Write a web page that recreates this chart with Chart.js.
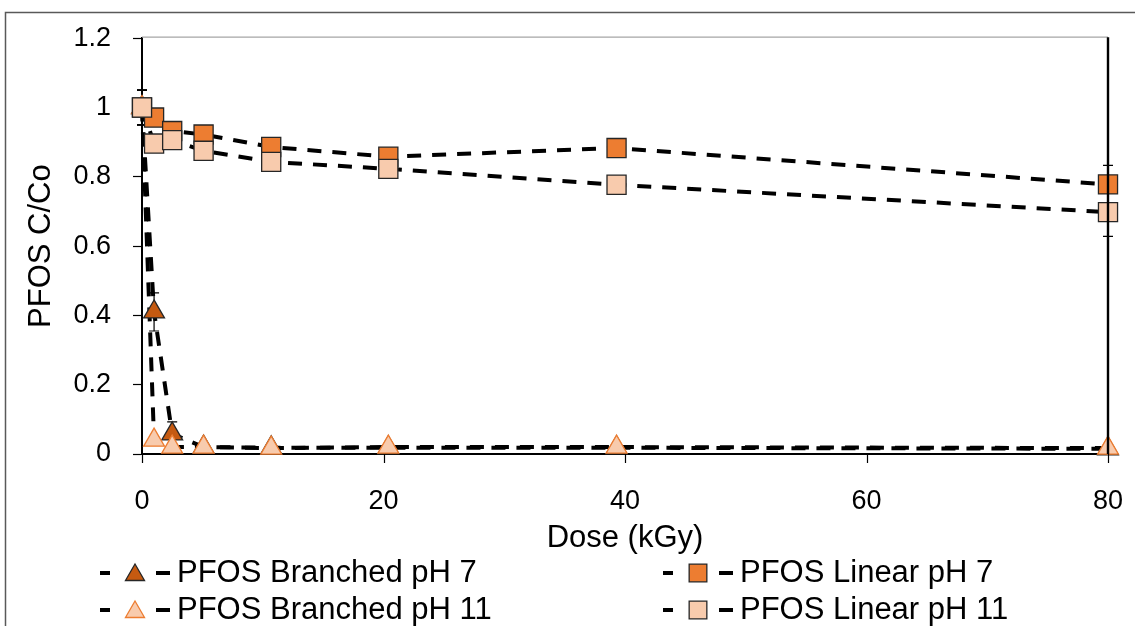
<!DOCTYPE html>
<html>
<head>
<meta charset="utf-8">
<script src="https://cdn.jsdelivr.net/npm/chart.js@4.4.1/dist/chart.umd.min.js"></script>
<style>
  html, body { margin: 0; padding: 0; background: #fff; }
  #wrap { width: 1135px; height: 626px; position: relative; }
</style>
</head>
<body>
<div id="wrap"><canvas id="c" width="1135" height="626"></canvas></div>
<script>
// dose in kGy
const dose = [0, 1, 2.5, 5.1, 10.7, 20.4, 39.3, 80];

const branchedPH7 = [1, 0.41, 0.058, 0.02, 0.018, 0.018, 0.018, 0.015];
const branchedPH11 = [1, 0.04, 0.02, 0.02, 0.017, 0.02, 0.02, 0.017];
const linearPH7 = [1, 0.971, 0.932, 0.922, 0.886, 0.858, 0.883, 0.778];
const linearPH11 = [1, 0.896, 0.906, 0.875, 0.843, 0.823, 0.777, 0.698];

// error bars (+/-)
const errBranchedPH7 = [0.05, 0.055, 0.035, 0.005, 0.005, 0.005, 0.005, 0.005];
const errBranchedPH11 = [0.05, 0.01, 0.005, 0.005, 0.005, 0.005, 0.005, 0.005];
const errLinearPH7 = [0.05, 0.01, 0.01, 0.01, 0.01, 0.01, 0.01, 0.055];
const errLinearPH11 = [0.05, 0.01, 0.01, 0.01, 0.01, 0.01, 0.01, 0.07];

const xTicks = [0, 20, 40, 60, 80];
const yTicks = [0, 0.2, 0.4, 0.6, 0.8, 1, 1.2];

const FONT = "'Liberation Sans', Arial, sans-serif";
Chart.defaults.font.family = FONT;
Chart.defaults.color = '#000';

const pts = vals => dose.map((x, i) => ({ x: x, y: vals[i] }));

// legend order as in the picture; col/row for placement
const series = [
  { label: 'PFOS Branched pH 7', vals: branchedPH7, err: errBranchedPH7, shape: 'triangle', r: 12, fill: '#C55A11', edge: '#262626', col: 0, row: 0 },
  { label: 'PFOS Linear pH 7', vals: linearPH7, err: errLinearPH7, shape: 'rect', r: 13.5, fill: '#ED7D31', edge: '#262626', col: 1, row: 0 },
  { label: 'PFOS Branched pH 11', vals: branchedPH11, err: errBranchedPH11, shape: 'triangle', r: 12, fill: '#F8CBAD', edge: '#ED7D31', col: 0, row: 1 },
  { label: 'PFOS Linear pH 11', vals: linearPH11, err: errLinearPH11, shape: 'rect', r: 13.5, fill: '#F8CBAD', edge: '#262626', col: 1, row: 1 }
];

// draw order, bottom -> top: branched 7, branched 11, linear 7, linear 11
const stack = [series[3], series[1], series[2], series[0]];

const markerSets = stack.map(s => ({
  label: s.label,
  data: pts(s.vals),
  showLine: false,
  pointStyle: s.shape,
  pointRadius: s.r,
  pointHoverRadius: s.r,
  pointBackgroundColor: s.fill,
  pointBorderColor: s.edge,
  pointBorderWidth: 1.3,
  clip: false,
  errors: s.err
}));

const lineSets = stack.map(s => ({
  label: s.label + ' line',
  data: pts(s.vals),
  showLine: true,
  pointRadius: 0,
  borderColor: '#000',
  borderWidth: 4,
  borderDash: [14, 11],
  borderCapStyle: 'butt',
  tension: 0,
  clip: false
}));

const errorBars = {
  id: 'errorBars',
  beforeDatasetsDraw(chart) {
    const { ctx, scales: { x, y } } = chart;
    ctx.save();
    ctx.strokeStyle = '#000';
    ctx.lineWidth = 1.2;
    chart.data.datasets.forEach(ds => {
      if (!ds.errors) return;
      ds.data.forEach((p, i) => {
        const px = x.getPixelForValue(p.x);
        const top = y.getPixelForValue(p.y + ds.errors[i]);
        const bot = y.getPixelForValue(p.y - ds.errors[i]);
        ctx.beginPath();
        ctx.moveTo(px, top); ctx.lineTo(px, bot);
        ctx.moveTo(px - 5, top); ctx.lineTo(px + 5, top);
        ctx.moveTo(px - 5, bot); ctx.lineTo(px + 5, bot);
        ctx.stroke();
      });
    });
    ctx.restore();
  }
};

const frame = {
  id: 'frame',
  afterDraw(chart) {
    const { ctx, chartArea: a } = chart;
    const xs = chart.scales.x;
    ctx.save();
    // outer chart border
    ctx.strokeStyle = '#595959';
    ctx.lineWidth = 1.5;
    ctx.strokeRect(5.5, 12.5, 1200, 700);
    // plot area top and right
    ctx.strokeStyle = '#a6a6a6';
    ctx.lineWidth = 1.2;
    ctx.beginPath();
    ctx.moveTo(a.left, a.top - 1); ctx.lineTo(a.right, a.top - 1);
    ctx.stroke();
    ctx.strokeStyle = '#000';
    ctx.lineWidth = 2.4;
    ctx.beginPath();
    ctx.moveTo(a.right, a.top - 1); ctx.lineTo(a.right, a.bottom);
    ctx.stroke();
    // short outward tick marks on the dose axis
    ctx.lineWidth = 1.2;
    ctx.beginPath();
    xs.ticks.forEach(t => {
      const px = Math.round(xs.getPixelForValue(t.value)) + 0.5;
      ctx.moveTo(px, a.bottom); ctx.lineTo(px, a.bottom + 9);
    });
    ctx.stroke();
    ctx.restore();
  }
};

const legendBox = {
  id: 'legendBox',
  afterDraw(chart) {
    const ctx = chart.ctx;
    const colX = [100, 663];
    const rowY = [573, 610];
    ctx.save();
    series.forEach(s => {
      const x0 = colX[s.col];
      const y = rowY[s.row];
      ctx.strokeStyle = '#000';
      ctx.lineWidth = 4;
      ctx.beginPath();
      ctx.moveTo(x0, y); ctx.lineTo(x0 + 10, y);
      ctx.moveTo(x0 + 56, y); ctx.lineTo(x0 + 70, y);
      ctx.stroke();
      ctx.fillStyle = s.fill;
      ctx.strokeStyle = s.edge;
      ctx.lineWidth = 1.3;
      Chart.helpers.drawPoint(ctx, { pointStyle: s.shape, radius: s.r - 1, borderWidth: 1.3, rotation: 0 }, x0 + 35, y + (s.shape === 'triangle' ? 2 : 0));
      ctx.fillStyle = '#000';
      ctx.font = '31px ' + FONT;
      ctx.textBaseline = 'middle';
      ctx.textAlign = 'left';
      ctx.fillText(s.label, x0 + 77, y);
    });
    ctx.restore();
  }
};

const plainNum = v => String(Math.round(v * 10) / 10);

new Chart(document.getElementById('c'), {
  type: 'scatter',
  data: { datasets: markerSets.concat(lineSets) },
  options: {
    responsive: false,
    animation: false,
    layout: { padding: { left: 19, top: 37, right: 27, bottom: 65 } },
    plugins: { legend: { display: false }, tooltip: { enabled: false } },
    scales: {
      x: {
        type: 'linear',
        min: 0, max: 80,
        afterBuildTicks: s => { s.ticks = xTicks.map(v => ({ value: v })); },
        afterFit: s => { s.height = 107; },
        ticks: { font: { size: 27 }, padding: 0, color: '#000', callback: plainNum },
        grid: { drawOnChartArea: false, tickLength: 31, tickColor: 'rgba(0,0,0,0)' },
        border: { color: '#000', width: 2 },
        title: { display: true, text: 'Dose (kGy)', font: { size: 31 }, color: '#000' }
      },
      y: {
        type: 'linear',
        min: 0, max: 1.2,
        afterBuildTicks: s => { s.ticks = yTicks.map(v => ({ value: v })); },
        afterFit: s => { s.width = 123; },
        ticks: { font: { size: 27 }, padding: 22, color: '#000', callback: plainNum },
        grid: { drawOnChartArea: false, tickLength: 9, color: '#000', tickWidth: 1.2 },
        border: { color: '#000', width: 2 },
        title: { display: true, text: 'PFOS C/Co', font: { size: 31 }, color: '#000' }
      }
    }
  },
  plugins: [errorBars, frame, legendBox]
});
</script>
</body>
</html>
